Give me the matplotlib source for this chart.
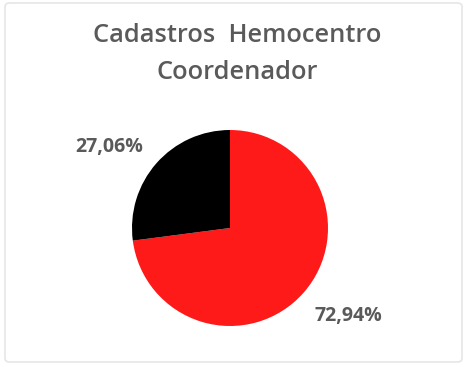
import matplotlib.pyplot as plt
from matplotlib.patches import FancyBboxPatch

# cadastros do hemocentro coordenador (%)
labels = ['Cadastros', 'Outros']
values = [72.94, 27.06]
colors = ['#ff1a1a', '#000000']
title_lines = ['Cadastros  Hemocentro', 'Coordenador']

W, H = 468, 367
fig = plt.figure(figsize=(W / 100, H / 100), dpi=100)
fig.patch.set_facecolor('white')

# moldura cinza clara do grafico
frame = FancyBboxPatch((5 / W, 5 / H), 1 - 11 / W, 1 - 8 / H,
                       boxstyle='round,pad=0,rounding_size=0.01',
                       transform=fig.transFigure, fill=False,
                       edgecolor='#e6e6e6', linewidth=1.2)
fig.patches.append(frame)

for line, base in zip(title_lines, [42, 79]):
    fig.text(237 / W, 1 - base / H, line, ha='center', va='baseline',
             fontsize=18.3, color='#5a5a5a', family='Open Sans',
             fontweight='semibold')

cx, cy, r = 230, 228, 98
ax = fig.add_axes([(cx - r) / W, (H - cy - r) / H, 2 * r / W, 2 * r / H])
ax.pie(values, colors=colors, startangle=90, counterclock=False,
       radius=1, wedgeprops=dict(linewidth=0))
ax.set_xlim(-1, 1)
ax.set_ylim(-1, 1)
ax.axis('off')

# rotulos de porcentagem (pixel x, linha de base)
pos = [(348, 321), (109, 152)]
for v, (px, py) in zip(values, pos):
    fig.text(px / W, 1 - py / H, f'{v:.2f}%'.replace('.', ','),
             ha='center', va='baseline', fontsize=14, color='#5a5a5a',
             family='Open Sans', fontweight='bold')

fig.savefig('out.png', dpi=100)
